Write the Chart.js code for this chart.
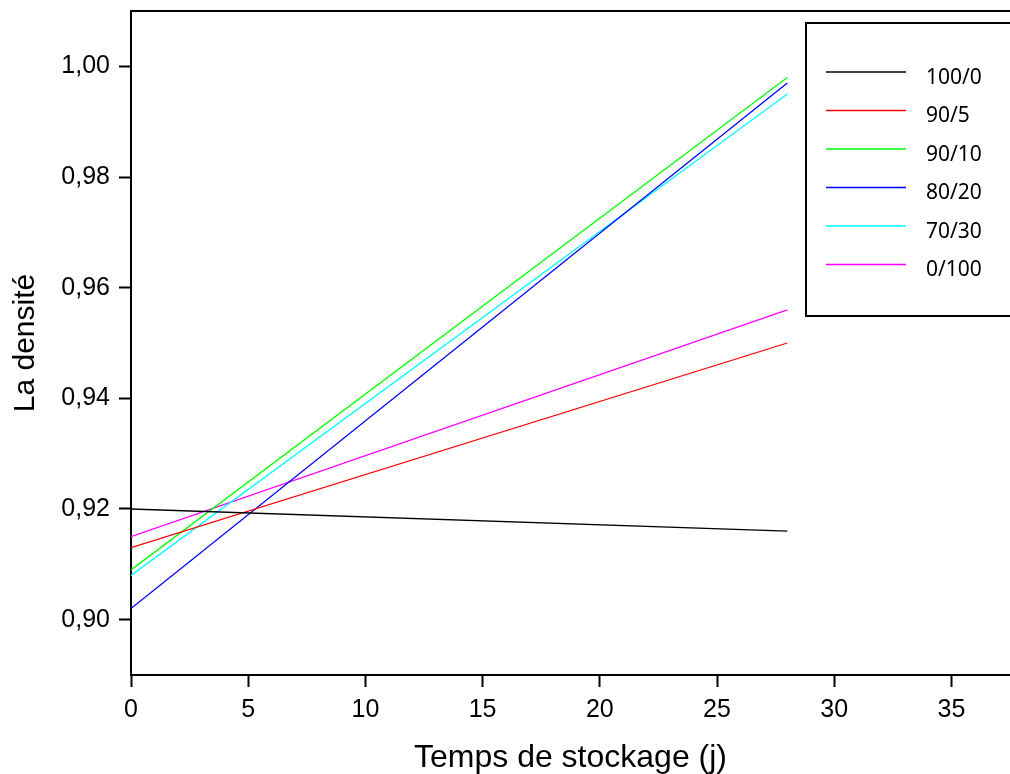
<!DOCTYPE html>
<html lang="fr">
<head>
    <meta charset="UTF-8">
    <title>La densité</title>
    <script src="https://cdn.jsdelivr.net/npm/chart.js@4.4.6/dist/chart.umd.min.js"></script>
    <style>
        body { margin: 0; background: #fff; }
    </style>
</head>
<body>
    <canvas id="densite" width="1010" height="774"></canvas>

    <script>
        // temps de stockage (j), fitted lines: start and end values
        const days = [0, 28]
        const labels = ['100/0', '90/5', '90/10', '80/20', '70/30', '0/100']
        const d100_0 = [0.920, 0.916]
        const d90_5 = [0.913, 0.950]
        const d90_10 = [0.909, 0.998]
        const d80_20 = [0.902, 0.997]
        const d70_30 = [0.908, 0.995]
        const d0_100 = [0.915, 0.956]
        const series = [d100_0, d90_5, d90_10, d80_20, d70_30, d0_100]

        const xTicks = [0, 5, 10, 15, 20, 25, 30, 35]
        const yTicks = [0.90, 0.92, 0.94, 0.96, 0.98, 1.00]

        const colors = ['#000000', '#ff0000', '#00ff00', '#0000ff', '#00ffff', '#ff00ff']

        const axisFont = { family: 'Liberation Sans, Arial, sans-serif', size: 25 }
        const xTitleFont = { family: 'Liberation Sans, Arial, sans-serif', size: 32 }
        const yTitleFont = { family: 'Liberation Sans, Arial, sans-serif', size: 30 }

        // no extra room for half tick labels, the plot box is fixed
        function noPad(scale) {
            scale.paddingTop = 0
            scale.paddingBottom = 0
            scale.paddingLeft = 0
            scale.paddingRight = 0
        }

        // boxed legend like the original (Origin style)
        const boxLegend = {
            id: 'boxLegend',
            afterDraw(chart) {
                const ctx = chart.ctx
                ctx.save()
                ctx.fillStyle = '#fff'
                ctx.fillRect(805, 22, 220, 294)
                ctx.strokeStyle = '#000'
                ctx.lineWidth = 2
                ctx.strokeRect(806, 23, 220, 293)
                ctx.font = '21px "Noto Sans", sans-serif'
                ctx.textBaseline = 'alphabetic'
                ctx.textAlign = 'left'
                chart.data.datasets.forEach((ds, i) => {
                    const y = 72 + i * 38.5
                    ctx.strokeStyle = ds.borderColor
                    ctx.lineWidth = 1.5
                    ctx.beginPath()
                    ctx.moveTo(826, y)
                    ctx.lineTo(906, y)
                    ctx.stroke()
                    ctx.fillStyle = '#000'
                    ctx.fillText(ds.label, 926, y + 11.5)
                })
                ctx.restore()
            }
        }

        const ctx = document.getElementById('densite').getContext('2d')

        new Chart(ctx, {
            type: 'line',
            data: {
                datasets: series.map((s, i) => ({
                    label: labels[i],
                    data: days.map((d, j) => ({ x: d, y: s[j] })),
                    borderColor: colors[i],
                    borderWidth: 1.3,
                    pointRadius: 0,
                    fill: false,
                    tension: 0
                }))
            },
            options: {
                responsive: false,
                animation: false,
                layout: { padding: 0 },
                scales: {
                    x: {
                        type: 'linear',
                        position: 'bottom',
                        min: 0,
                        max: 37.5,
                        afterBuildTicks: (scale) => { scale.ticks = xTicks.map(v => ({ value: v })) },
                        afterFit: (scale) => { scale.height = 99; noPad(scale) },
                        ticks: { color: '#000', font: axisFont, padding: 8, maxRotation: 0 },
                        grid: { drawOnChartArea: false, drawTicks: true, tickLength: 12, tickWidth: 2, tickColor: '#000' },
                        border: { display: true, color: '#000', width: 2 },
                        title: { display: true, text: 'Temps de stockage (j)', color: '#000', font: xTitleFont, padding: { top: 0, bottom: -3 } }
                    },
                    xTop: {
                        type: 'linear',
                        position: 'top',
                        min: 0,
                        max: 37.5,
                        afterFit: (scale) => { scale.height = 11; noPad(scale) },
                        ticks: { display: false },
                        grid: { drawOnChartArea: false, drawTicks: false },
                        border: { display: true, color: '#000', width: 2 }
                    },
                    y: {
                        min: 0.89,
                        max: 1.01,
                        afterBuildTicks: (scale) => { scale.ticks = yTicks.map(v => ({ value: v })) },
                        afterFit: (scale) => { scale.width = 131; noPad(scale) },
                        ticks: {
                            color: '#000',
                            font: axisFont,
                            padding: 9,
                            callback: (v) => v.toFixed(2).replace('.', ',')
                        },
                        grid: { drawOnChartArea: false, drawTicks: true, tickLength: 12, tickWidth: 2, tickColor: '#000' },
                        border: { display: true, color: '#000', width: 2 },
                        title: { display: true, text: 'La densité', color: '#000', font: yTitleFont, padding: { top: 8, bottom: 0 } }
                    }
                },
                plugins: {
                    legend: { display: false },
                    tooltip: { enabled: false }
                }
            },
            plugins: [boxLegend]
        })
    </script>
</body>
</html>
